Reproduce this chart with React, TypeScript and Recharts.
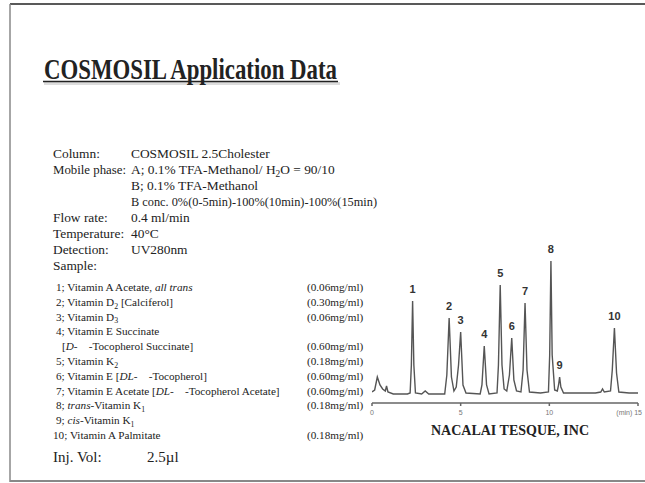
import React from "react";
import { ComposedChart, Line, Scatter, XAxis, YAxis } from "recharts";

// chromatogram trace (time in min, signal in arbitrary units)
const traceTime = [
  0, 0.15, 0.3, 0.45, 0.6, 0.75, 0.82, 0.9, 1.2, 2.0, 2.15, 2.22, 2.29, 2.36, 2.45, 2.8, 3.0, 3.2,
  4.1, 4.22, 4.35, 4.48, 4.62, 4.75, 4.88, 5.0, 5.13, 5.3, 6.1, 6.2, 6.33, 6.46, 6.6, 7.05, 7.13,
  7.23, 7.33, 7.45, 7.6, 7.75, 7.88, 8.0, 8.15, 8.4, 8.52, 8.63, 8.74, 8.88, 9.5, 9.95, 10.02,
  10.09, 10.16, 10.3, 10.45, 10.52, 10.58, 10.65, 10.8, 12.6, 12.9, 13.0, 13.1, 13.45, 13.55,
  13.67, 13.79, 13.92, 14.5, 15,
];
const traceSignal = [
  3, 5, 18, 10, 6, 4, 9, 3, 1, 1, 2, 30, 94, 30, 2, 1, 4, 1,
  1, 20, 77, 18, 4, 8, 30, 63, 10, 2, 1, 10, 49, 10, 1, 2, 30,
  110, 30, 6, 4, 20, 57, 15, 4, 3, 25, 92, 25, 3, 2, 3, 40,
  134, 40, 5, 4, 10, 18, 8, 2, 2, 3, 6, 3, 4, 25,
  67, 22, 3, 2, 2,
];

const peakLabels = ["1", "2", "3", "4", "5", "6", "7", "8", "9", "10"];
const peakTimes = [2.29, 4.35, 5.0, 6.33, 7.23, 7.88, 8.63, 10.09, 10.58, 13.67];
const peakHeights = [94, 77, 63, 49, 110, 57, 92, 134, 18, 67];

const timeTicks = [0, 5, 10, 15];

const trace = traceTime.map((t, i) => ({ t, s: traceSignal[i] }));
const peaks = peakTimes.map((t, i) => ({ t, h: peakHeights[i], label: peakLabels[i] }));

const serif = "'Liberation Serif', 'Times New Roman', serif";
const sans = "'Liberation Sans', Arial, sans-serif";

type Seg = [string, string?];

const conditions: { label: string; value: Seg[]; fit?: number; labelFit?: number }[] = [
  { label: "Column:", value: [["COSMOSIL 2.5Cholester"]] },
  { label: "Mobile phase:", value: [["A; 0.1% TFA-Methanol/ H"], ["2", "sub"], ["O = 90/10"]], labelFit: 73 },
  { label: "", value: [["B; 0.1% TFA-Methanol"]] },
  { label: "", value: [["B conc. 0%(0-5min)-100%(10min)-100%(15min)"]], fit: 246 },
  { label: "Flow rate:", value: [["0.4 ml/min"]] },
  { label: "Temperature:", value: [["40°C"]] },
  { label: "Detection:", value: [["UV280nm"]] },
  { label: "Sample:", value: [] },
];

const samples: { x: number; text: Seg[]; conc: string }[] = [
  { x: 56, text: [["1; Vitamin A Acetate, "], ["all trans", "i"]], conc: "(0.06mg/ml)" },
  { x: 56, text: [["2; Vitamin D"], ["2", "sub"], [" [Calciferol]"]], conc: "(0.30mg/ml)" },
  { x: 56, text: [["3; Vitamin D"], ["3", "sub"]], conc: "(0.06mg/ml)" },
  { x: 56, text: [["4; Vitamin E Succinate"]], conc: "" },
  { x: 62, text: [["["], ["D-", "i"], ["    -Tocopherol Succinate]"]], conc: "(0.60mg/ml)" },
  { x: 56, text: [["5; Vitamin K"], ["2", "sub"]], conc: "(0.18mg/ml)" },
  { x: 56, text: [["6; Vitamin E ["], ["DL-", "i"], ["    -Tocopherol]"]], conc: "(0.60mg/ml)" },
  { x: 56, text: [["7; Vitamin E Acetate ["], ["DL-", "i"], ["    -Tocopherol Acetate]"]], conc: "(0.60mg/ml)" },
  { x: 56, text: [["8; "], ["trans", "i"], ["-Vitamin K"], ["1", "sub"]], conc: "(0.18mg/ml)" },
  { x: 56, text: [["9; "], ["cis", "i"], ["-Vitamin K"], ["1", "sub"]], conc: "" },
  { x: 53, text: [["10; Vitamin A Palmitate"]], conc: "(0.18mg/ml)" },
];

function Rich({ segs, size }: { segs: Seg[]; size: number }) {
  let shifted = false;
  return (
    <>
      {segs.map(([txt, kind], i) => {
        let dy = 0;
        if (kind === "sub") {
          dy = size * 0.25;
          shifted = true;
        } else if (shifted) {
          dy = -size * 0.25;
          shifted = false;
        }
        return (
          <tspan
            key={i}
            dy={dy}
            fontStyle={kind === "i" ? "italic" : "normal"}
            fontSize={kind === "sub" ? size * 0.7 : size}
            style={{ whiteSpace: "pre" }}
          >
            {txt}
          </tspan>
        );
      })}
    </>
  );
}

function TimeTick(props: any) {
  const { x, y, payload } = props;
  const v = payload.value;
  return (
    <text x={x} y={y + 7} fontSize={7} fontFamily={sans} fill="#777" textAnchor={v === 15 ? "end" : "middle"} dx={v === 15 ? 5 : 0}>
      {v === 15 ? "(min) 15" : v}
    </text>
  );
}

function PeakMark(props: any) {
  const { cx, cy, payload } = props;
  return (
    <text x={cx} y={cy - 8} fontSize={11} fontWeight="bold" fontFamily={sans} fill="#333" textAnchor="middle">
      {payload.label}
    </text>
  );
}

export default function App() {
  return (
    <div style={{ position: "absolute", left: 0, top: 0, width: 645, height: 483, background: "#fff", overflow: "hidden" }}>
      <svg width={645} height={483} style={{ position: "absolute", left: 0, top: 0 }}>
        <line x1={10} y1={4} x2={645} y2={4} stroke="#222" strokeWidth={1.5} />
        <line x1={10} y1={4} x2={10} y2={482} stroke="#888" strokeWidth={1.5} />
        <line x1={10} y1={481} x2={645} y2={481} stroke="#888" strokeWidth={2} />

        <rect x={44} y={82} width={296} height={3} fill="#ddd" />
        <text x={44} y={79} fontSize={29} fontWeight="bold" fontFamily={serif} fill="#222" textLength={293} lengthAdjust="spacingAndGlyphs">
          COSMOSIL Application Data
        </text>
        <line x1={43} y1={81.5} x2={338} y2={81.5} stroke="#222" strokeWidth={1.6} />

        {conditions.map((c, i) => (
          <g key={i} fontFamily={serif} fontSize={13.4} fill="#222">
            <text x={53} y={158 + i * 16} textLength={c.labelFit} lengthAdjust={c.labelFit ? "spacingAndGlyphs" : undefined}>
              {c.label}
            </text>
            <text x={131} y={158 + i * 16} textLength={c.fit} lengthAdjust={c.fit ? "spacingAndGlyphs" : undefined}>
              <Rich segs={c.value} size={13.4} />
            </text>
          </g>
        ))}

        {samples.map((s, i) => (
          <g key={i} fontFamily={serif} fontSize={11.2} fill="#222">
            <text x={s.x} y={291 + i * 14.8}>
              <Rich segs={s.text} size={11.2} />
            </text>
            <text x={307} y={291 + i * 14.8}>{s.conc}</text>
          </g>
        ))}

        <text x={53} y={462} fontFamily={serif} fontSize={15} fill="#222">Inj. Vol:</text>
        <text x={147} y={462} fontFamily={serif} fontSize={15} fill="#222">2.5µl</text>

        <text x={510} y={435} fontFamily={serif} fontSize={14} fontWeight="bold" fill="#222" textAnchor="middle">
          NACALAI TESQUE, INC
        </text>
      </svg>

      <div style={{ position: "absolute", left: 0, top: 0 }}>
        <ComposedChart width={645} height={483} margin={{ left: 372, right: 7, top: 235, bottom: 60 }}>
          <XAxis
            type="number"
            dataKey="t"
            domain={[0, 15]}
            ticks={timeTicks}
            height={20}
            stroke="#666"
            strokeWidth={1.5}
            tickSize={3}
            tick={<TimeTick />}
            allowDataOverflow
          />
          <YAxis type="number" domain={[-8, 160]} hide allowDataOverflow />
          <Line
            data={trace}
            dataKey="s"
            type="linear"
            stroke="#555"
            strokeWidth={1.4}
            dot={false}
            isAnimationActive={false}
          />
          <Scatter data={peaks} dataKey="h" shape={<PeakMark />} isAnimationActive={false} />
        </ComposedChart>
      </div>
    </div>
  );
}
